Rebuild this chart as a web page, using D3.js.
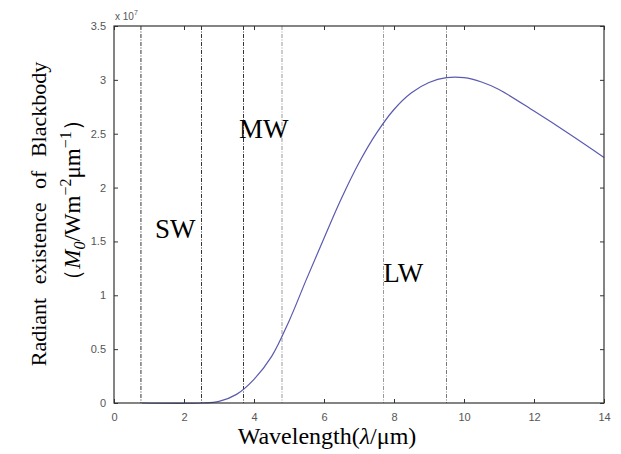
<!DOCTYPE html>
<html>
<head>
<meta charset="utf-8">
<script src="https://cdn.jsdelivr.net/npm/d3@7"></script>
<style>
  body { margin: 0; background: #fff; }
  svg { display: block; }
</style>
</head>
<body>
<div id="chart"></div>
<script>
// wavelength (um) and radiant exitance (x 1e7)
var wavelength = [0.8, 2.5, 3.0, 3.5, 4.0, 4.5, 5.0, 5.5, 6.0, 6.5, 7.0, 7.5, 8.0, 8.5, 9.0, 9.5, 10, 10.5, 11, 12, 13, 14];
var exitance   = [0, 0, 0.015, 0.08, 0.22, 0.43, 0.76, 1.15, 1.53, 1.90, 2.23, 2.505, 2.725, 2.88, 2.975, 3.02, 3.02, 2.98, 2.91, 2.71, 2.50, 2.28];

// band boundaries
var bounds = [0.77, 2.5, 3.7, 4.8, 7.7, 9.5];
var boundColor = ["#333", "#333", "#333", "#999", "#999", "#777"];

// band labels
var bandNames = ["SW", "MW", "LW"];
var bandX = [1.17, 3.57, 7.69];
var bandY = [1.53, 2.46, 1.12];

var xTicks = [0, 2, 4, 6, 8, 10, 12, 14];
var yTicks = [0, 0.5, 1, 1.5, 2, 2.5, 3, 3.5];

var W = 621, H = 454;
var margin = {top: 26, right: 17, bottom: 51, left: 114};
var width = W - margin.left - margin.right,
    height = H - margin.top - margin.bottom;

var serif = "'Liberation Serif', 'Times New Roman', 'DejaVu Serif', serif";
var sans = "'Liberation Sans', Arial, sans-serif";

var svg = d3.select("#chart").append("svg")
    .attr("width", W).attr("height", H);

var g = svg.append("g")
    .attr("transform", "translate(" + margin.left + "," + margin.top + ")");

var x = d3.scaleLinear().domain([0, 14]).range([0, width]);
var y = d3.scaleLinear().domain([0, 3.5]).range([height, 0]);

// boundaries
g.selectAll(".bound")
    .data(bounds)
    .enter().append("line")
    .attr("x1", function(d){ return x(d); })
    .attr("x2", function(d){ return x(d); })
    .attr("y1", 0).attr("y2", height)
    .attr("stroke", function(d, i){ return boundColor[i]; })
    .attr("stroke-width", 1)
    .attr("stroke-dasharray", "4,1.5,1,1.5");

// curve
var pts = wavelength.map(function(d, i){ return [d, exitance[i]]; });
var line = d3.line()
    .x(function(d){ return x(d[0]); })
    .y(function(d){ return y(d[1]); })
    .curve(d3.curveCatmullRom.alpha(0.5));

g.append("path")
    .datum(pts)
    .attr("d", line)
    .attr("fill", "none")
    .attr("stroke", "#5a5ab0")
    .attr("stroke-width", 1.2);

// axes (matlab style box, ticks inside)
var axColor = "#333";
function styleAxis(sel, showLabels) {
    sel.select(".domain").remove();
    sel.selectAll(".tick line").attr("stroke", axColor);
    sel.selectAll(".tick text")
        .attr("fill", "#555")
        .style("font-family", sans)
        .style("font-size", "11px");
    if (!showLabels) sel.selectAll(".tick text").remove();
}

g.append("g")
    .attr("transform", "translate(0," + height + ")")
    .call(d3.axisBottom(x).tickValues(xTicks).tickSize(-4).tickPadding(10).tickFormat(d3.format("d")))
    .call(styleAxis, true);
g.append("g")
    .call(d3.axisTop(x).tickValues(xTicks).tickSize(-4))
    .call(styleAxis, false);
g.append("g")
    .call(d3.axisLeft(y).tickValues(yTicks).tickSize(-4).tickPadding(8).tickFormat(function(d){ return d3.format("~g")(d); }))
    .call(styleAxis, true);
g.append("g")
    .attr("transform", "translate(" + width + ",0)")
    .call(d3.axisRight(y).tickValues(yTicks).tickSize(-4))
    .call(styleAxis, false);

g.append("rect")
    .attr("width", width).attr("height", height)
    .attr("fill", "none")
    .attr("stroke", axColor)
    .attr("stroke-width", 1.2);

// exponent
var ex = g.append("text")
    .attr("x", 1).attr("y", -6)
    .attr("fill", "#555")
    .style("font-family", sans)
    .style("font-size", "10px");
ex.append("tspan").text("x 10");
ex.append("tspan").attr("dy", -5).style("font-size", "7px").text("7");

// band labels
g.selectAll(".band")
    .data(bandNames)
    .enter().append("text")
    .attr("x", function(d, i){ return x(bandX[i]); })
    .attr("y", function(d, i){ return y(bandY[i]); })
    .attr("font-family", serif)
    .attr("font-size", 27)
    .attr("fill", "#000")
    .text(function(d){ return d; });

// x label
var xl = svg.append("text")
    .attr("x", 327).attr("y", 444)
    .attr("text-anchor", "middle")
    .attr("font-family", serif)
    .attr("font-size", 24);
xl.append("tspan").text("Wavelength(");
xl.append("tspan").attr("font-style", "italic").text("λ");
xl.append("tspan").text("/μm)");

// y label
svg.append("text")
    .attr("transform", "translate(46,214) rotate(-90)")
    .attr("text-anchor", "middle")
    .attr("font-family", serif)
    .attr("font-size", 22)
    .attr("word-spacing", 8)
    .text("Radiant existence of Blackbody");

var yl = svg.append("text")
    .attr("transform", "translate(80,200) rotate(-90)")
    .attr("text-anchor", "middle")
    .attr("font-family", serif)
    .attr("font-size", 23);
yl.append("tspan").text("（");
yl.append("tspan").attr("font-style", "italic").text("M");
yl.append("tspan").attr("dy", 5).attr("font-size", 16).attr("font-style", "italic").text("0");
yl.append("tspan").attr("dy", -5).text("/Wm");
yl.append("tspan").attr("dy", -9).attr("font-size", 16).text("−2");
yl.append("tspan").attr("dy", 9).text("μm");
yl.append("tspan").attr("dy", -9).attr("font-size", 16).text("−1");
yl.append("tspan").attr("dy", 9).text("）");
</script>
</body>
</html>
